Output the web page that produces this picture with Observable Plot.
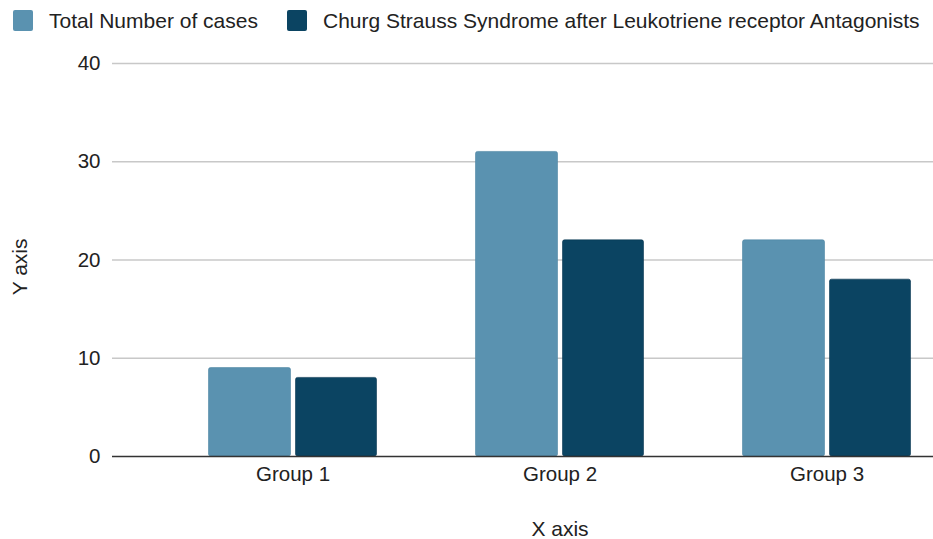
<!DOCTYPE html>
<html>
<head>
<meta charset="utf-8">
<script src="https://cdn.jsdelivr.net/npm/d3@7"></script>
<script src="https://cdn.jsdelivr.net/npm/@observablehq/plot@0.6"></script>
<style>
  html, body { margin: 0; padding: 0; background: #fff; }
  body { width: 933px; height: 539px; overflow: hidden; font-family: "Liberation Sans", Arial, sans-serif; }
  #legend { position: relative; height: 40px; font-size: 21px; color: #222; }
  .item { position: absolute; top: 10px; height: 21px; display: flex; align-items: center; white-space: nowrap; }
  .sw { width: 20px; height: 21px; border-radius: 2px; margin-right: 16px; flex: none; }
</style>
</head>
<body>
<div id="legend"></div>
<div id="chart"></div>
<script>
const groups = ["Group 1", "Group 2", "Group 3"];
const seriesNames = ["Total Number of cases", "Churg Strauss Syndrome after Leukotriene receptor Antagonists"];
const totalCases = [9, 31, 22];
const churgStrauss = [8, 22, 18];
const yTicks = [0, 10, 20, 30, 40];
const colors = ["#5a92b0", "#0b4462"];

const legend = document.getElementById("legend");
const legendX = [13, 287];
seriesNames.forEach((name, i) => {
  const it = document.createElement("div");
  it.className = "item";
  it.style.left = legendX[i] + "px";
  it.innerHTML = `<div class="sw" style="background:${colors[i]}"></div><span>${name}</span>`;
  legend.appendChild(it);
});

const dataA = groups.map((g, i) => ({group: g, value: totalCases[i]}));
const dataB = groups.map((g, i) => ({group: g, value: churgStrauss[i]}));

const chart = Plot.plot({
  width: 933,
  height: 499,
  marginTop: 23,
  marginBottom: 83,
  marginLeft: 112,
  marginRight: 0,
  style: {fontFamily: "Liberation Sans, Arial, sans-serif", fontSize: "20.5px", color: "#222", background: "#fff"},
  x: {domain: groups, range: [158.5, 959.5], padding: 0, label: null},
  y: {domain: [0, 40], ticks: yTicks, label: null},
  marks: [
    Plot.ruleY(yTicks.filter(d => d > 0), {stroke: "#c8c8c8", strokeWidth: 1.3}),
    Plot.barY(dataA, {x: "group", y: "value", fill: colors[0], stroke: "#4d84a2", strokeWidth: 0.6, rx: 2, insetLeft: 49.5, insetRight: 135.5}),
    Plot.barY(dataB, {x: "group", y: "value", fill: colors[1], stroke: "#083650", strokeWidth: 0.6, rx: 2, insetLeft: 136.5, insetRight: 49.5}),
    Plot.ruleY([0], {stroke: "#333", strokeWidth: 1.3}),
    Plot.axisY({ticks: yTicks, tickSize: 0, tickPadding: 12, label: null, fill: "#222"}),
    Plot.axisX({tickSize: 0, tickPadding: 10, label: null, fill: "#222"}),
    Plot.text(["X axis"], {frameAnchor: "bottom", dy: 79, text: d => d, fontSize: 21, fill: "#222", x: () => groups[1]}),
    Plot.text(["Y axis"], {frameAnchor: "left", textAnchor: "middle", dx: -92, rotate: -90, text: d => d, fontSize: 21, fill: "#222", y: () => 19.3})
  ]
});
document.getElementById("chart").appendChild(chart);
</script>
</body>
</html>
